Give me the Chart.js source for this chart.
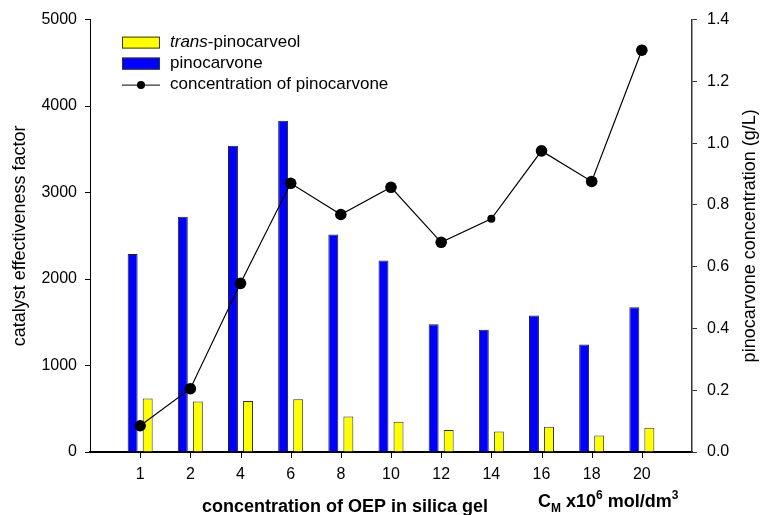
<!DOCTYPE html>
<html>
<head>
<meta charset="utf-8">
<title>Pinocarvone</title>
<script src="https://cdn.jsdelivr.net/npm/chart.js@4.4.1/dist/chart.umd.min.js"></script>
<style>
    html, body { margin: 0; padding: 0; background: #fff; }
    canvas { display: block; }
</style>
</head>
<body>
<canvas id="pinoChart" width="761" height="515"></canvas>
<script>
// OEP concentration in silica gel (C_M x10^6 mol/dm3)
const categories = ['1', '2', '4', '6', '8', '10', '12', '14', '16', '18', '20'];
// catalyst effectiveness factor
const pinocarvone = [2290, 2720, 3540, 3830, 2515, 2215, 1478, 1413, 1578, 1244, 1674];
const transPinocarveol = [618, 584, 591, 611, 411, 349, 253, 238, 292, 192, 280];
// pinocarvone concentration, g/L
const concentration = [0.085, 0.205, 0.546, 0.870, 0.769, 0.857, 0.679, 0.755, 0.975, 0.876, 1.301];

const leftTicks = [0, 1000, 2000, 3000, 4000, 5000];
const rightTicks = [0, 0.2, 0.4, 0.6, 0.8, 1.0, 1.2, 1.4];

const FONT = "'Liberation Sans', Arial, sans-serif";

// empty slot at each end so the groups sit one full step in from the axes
function pad(arr, fill) {
    return [fill].concat(arr, [fill]);
}

const legendItems = [
    { label: ['trans', '-pinocarveol'], color: '#ffff00', type: 'box' },
    { label: ['', 'pinocarvone'], color: '#0000ff', type: 'box' },
    { label: ['', 'concentration of pinocarvone'], color: '#000', type: 'line' }
];

const extras = {
    id: 'extras',
    afterDraw(chart) {
        const ctx = chart.ctx;
        const area = chart.chartArea;
        const xs = chart.scales.x;
        ctx.save();

        // short tick marks under each concentration label
        ctx.strokeStyle = '#000';
        ctx.lineWidth = 1;
        ctx.beginPath();
        categories.forEach(function (c, i) {
            const px = Math.round(xs.getPixelForValue(i + 1)) + 0.5;
            ctx.moveTo(px, area.bottom);
            ctx.lineTo(px, area.bottom + 6);
        });
        ctx.stroke();

        // legend box inside the plot
        let x0 = area.left + 32, y = area.top + 23;
        legendItems.forEach(function (item) {
            if (item.type === 'box') {
                ctx.fillStyle = item.color;
                ctx.fillRect(x0, y - 6, 38, 12);
                ctx.strokeStyle = '#333';
                ctx.lineWidth = 1;
                ctx.strokeRect(x0 + 0.5, y - 5.5, 37, 11);
            } else {
                ctx.strokeStyle = '#000';
                ctx.lineWidth = 1;
                ctx.beginPath();
                ctx.moveTo(x0, y + 0.5);
                ctx.lineTo(x0 + 38, y + 0.5);
                ctx.stroke();
                ctx.fillStyle = '#000';
                ctx.beginPath();
                ctx.arc(x0 + 19, y + 0.5, 4, 0, Math.PI * 2);
                ctx.fill();
            }
            ctx.fillStyle = '#000';
            ctx.textBaseline = 'middle';
            ctx.textAlign = 'left';
            let tx = x0 + 48;
            if (item.label[0]) {
                ctx.font = 'italic 17px ' + FONT;
                ctx.fillText(item.label[0], tx, y);
                tx += ctx.measureText(item.label[0]).width;
            }
            ctx.font = '17px ' + FONT;
            ctx.fillText(item.label[1], tx, y);
            y += 21;
        });

        // right axis title, reading bottom to top like the left one
        ctx.save();
        ctx.translate(750, (area.top + area.bottom) / 2);
        ctx.rotate(-Math.PI / 2);
        ctx.textAlign = 'center';
        ctx.textBaseline = 'middle';
        ctx.font = '18px ' + FONT;
        ctx.fillText('pinocarvone concentration (g/L)', 0, 0);
        ctx.restore();

        // x axis title and units
        ctx.textBaseline = 'alphabetic';
        ctx.textAlign = 'center';
        ctx.font = 'bold 18px ' + FONT;
        ctx.fillText('concentration of OEP in silica gel', area.left + 255, 512);

        ctx.textAlign = 'left';
        let ux = area.left + 448;
        const base = 507;
        const parts = [
            ['C', 18, 0], ['M', 12, 5], [' x10', 18, 0], ['6', 12, -8],
            [' mol/dm', 18, 0], ['3', 12, -8]
        ];
        parts.forEach(function (p) {
            ctx.font = 'bold ' + p[1] + 'px ' + FONT;
            ctx.fillText(p[0], ux, base + p[2]);
            ux += ctx.measureText(p[0]).width;
        });
        ctx.restore();
    }
};

const labels = pad(categories, '');

new Chart(document.getElementById('pinoChart'), {
    data: {
        labels: labels,
        datasets: [{
            type: 'line',
            label: 'concentration of pinocarvone',
            data: pad(concentration, null),
            yAxisID: 'y1',
            borderColor: '#000',
            borderWidth: 1.2,
            backgroundColor: '#000',
            pointBackgroundColor: '#000',
            pointBorderWidth: 0,
            pointRadius: function (c) { return c.dataIndex === 8 ? 4 : 5.8; },
            spanGaps: false,
            tension: 0,
            order: 0
        }, {
            type: 'bar',
            label: 'pinocarvone',
            data: pad(pinocarvone, null),
            yAxisID: 'y',
            backgroundColor: '#0000ff',
            borderColor: '#222',
            borderWidth: 1,
            categoryPercentage: 0.6,
            barPercentage: 0.66,
            order: 1
        }, {
            type: 'bar',
            label: 'trans-pinocarveol',
            data: pad(transPinocarveol, null),
            yAxisID: 'y',
            backgroundColor: '#ffff00',
            borderColor: '#333',
            borderWidth: 1,
            categoryPercentage: 0.6,
            barPercentage: 0.66,
            order: 2
        }]
    },
    options: {
        responsive: false,
        animation: false,
        layout: { padding: { top: 18, left: 0, right: 0, bottom: 0 } },
        plugins: {
            legend: { display: false },
            tooltip: { enabled: false }
        },
        scales: {
            x: {
                type: 'category',
                offset: false,
                afterFit: function (s) { s.height = 63; },
                grid: {
                    offset: false,
                    display: true,
                    drawOnChartArea: false,
                    drawTicks: false
                },
                border: { display: true, color: '#000', width: 2 },
                ticks: {
                    color: '#000',
                    font: { family: FONT, size: 16 },
                    padding: 13,
                    maxRotation: 0,
                    autoSkip: false
                }
            },
            y: {
                position: 'left',
                min: 0,
                max: 5000,
                afterFit: function (s) { s.width = 90; },
                afterBuildTicks: function (s) { s.ticks = leftTicks.map(function (v) { return { value: v }; }); },
                grid: { drawOnChartArea: false, tickLength: 5, tickColor: '#000' },
                border: { display: true, color: '#000', width: 1 },
                ticks: {
                    color: '#000',
                    font: { family: FONT, size: 16 },
                    padding: 8,
                    callback: function (v) { return String(v); }
                },
                title: {
                    display: true,
                    text: 'catalyst effectiveness factor',
                    color: '#000',
                    font: { family: FONT, size: 18 },
                    padding: { top: 9, bottom: 0 }
                }
            },
            y1: {
                position: 'right',
                min: 0,
                max: 1.4,
                afterFit: function (s) { s.width = 69; },
                afterBuildTicks: function (s) { s.ticks = rightTicks.map(function (v) { return { value: v }; }); },
                grid: { drawOnChartArea: false, tickLength: 5, tickColor: '#333' },
                border: { display: true, color: '#333', width: 1.5 },
                ticks: {
                    color: '#000',
                    font: { family: FONT, size: 16 },
                    padding: 10,
                    callback: function (v) { return Number(v).toFixed(1); }
                }
            }
        }
    },
    plugins: [extras]
});
</script>
</body>
</html>
